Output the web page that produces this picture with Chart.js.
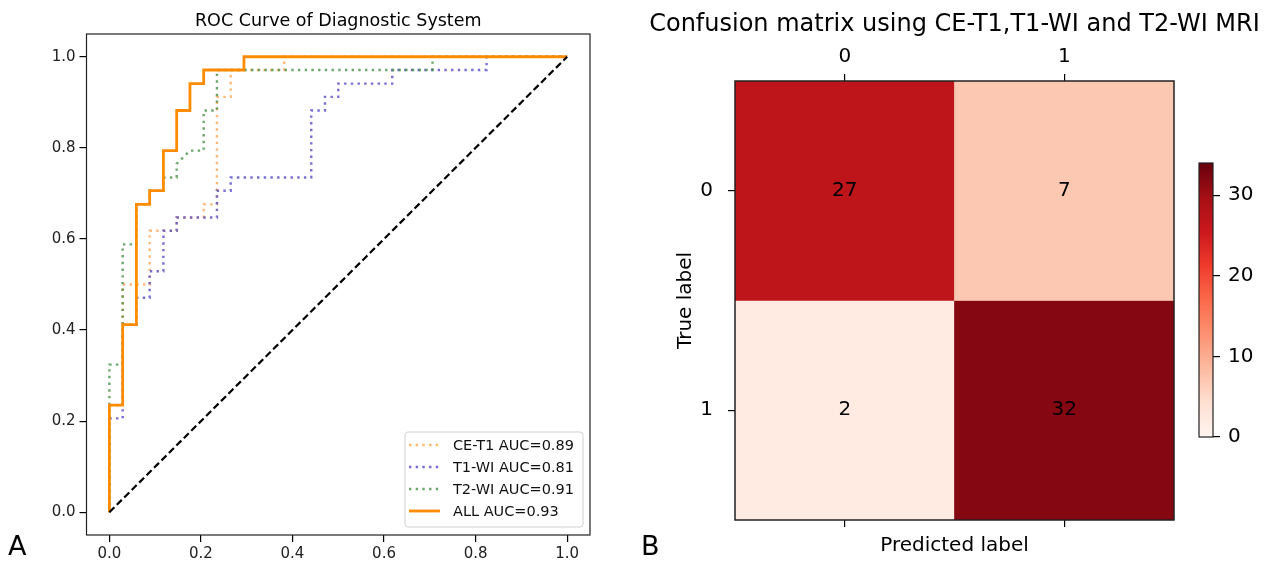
<!DOCTYPE html>
<html>
<head>
<meta charset="utf-8">
<script src="https://cdn.jsdelivr.net/npm/chart.js@4.4.0/dist/chart.umd.min.js"></script>
<style>
  html, body { margin: 0; padding: 0; background: #fff; }
  #wrap { position: relative; width: 1277px; height: 565px; overflow: hidden; font-family: "DejaVu Sans", sans-serif; }
  canvas { position: absolute; }
  #roc { left: 0; top: 0; }
  #cm { left: 640px; top: 0; }
  #cbar { left: 1185px; top: 140px; }
  .letter { position: absolute; font-size: 27px; line-height: 27px; color: #000; }
</style>
</head>
<body>
<div id="wrap">
  <canvas id="roc" width="640" height="565"></canvas>
  <canvas id="cm" width="637" height="565"></canvas>
  <canvas id="cbar" width="92" height="320"></canvas>
  <div class="letter" style="left:8px; top:532px;">A</div>
  <div class="letter" style="left:641px; top:532px;">B</div>
</div>
<script>
// ROC curves (false positive rate / true positive rate)
const CE_FPR  = [0, 0, 0.029, 0.029, 0.088, 0.088, 0.118, 0.118, 0.147, 0.147, 0.206, 0.206, 0.235, 0.235, 0.265, 0.265, 0.382, 0.382, 1];
const CE_TPR  = [0, 0.235, 0.235, 0.5, 0.5, 0.618, 0.618, 0.618, 0.618, 0.647, 0.647, 0.676, 0.676, 0.912, 0.912, 0.971, 0.971, 1, 1];
const T1_FPR  = [0, 0, 0.029, 0.029, 0.059, 0.059, 0.088, 0.088, 0.118, 0.118, 0.147, 0.147, 0.235, 0.235, 0.265, 0.265, 0.441, 0.441, 0.471, 0.471, 0.5, 0.5, 0.618, 0.618, 0.824, 0.824, 1];
const T1_TPR  = [0, 0.206, 0.206, 0.412, 0.412, 0.471, 0.471, 0.529, 0.529, 0.618, 0.618, 0.647, 0.647, 0.706, 0.706, 0.735, 0.735, 0.882, 0.882, 0.912, 0.912, 0.941, 0.941, 0.971, 0.971, 1, 1];
const T2_FPR  = [0, 0, 0.029, 0.029, 0.059, 0.059, 0.088, 0.088, 0.118, 0.118, 0.147, 0.147, 0.176, 0.206, 0.206, 0.235, 0.235, 0.706, 0.706, 1];
const T2_TPR  = [0, 0.324, 0.324, 0.588, 0.588, 0.676, 0.676, 0.706, 0.706, 0.735, 0.735, 0.765, 0.794, 0.794, 0.882, 0.882, 0.971, 0.971, 1, 1];
const ALL_FPR = [0, 0, 0.029, 0.029, 0.059, 0.059, 0.088, 0.088, 0.118, 0.118, 0.147, 0.147, 0.176, 0.176, 0.206, 0.206, 0.294, 0.294, 1];
const ALL_TPR = [0, 0.235, 0.235, 0.412, 0.412, 0.676, 0.676, 0.706, 0.706, 0.794, 0.794, 0.882, 0.882, 0.941, 0.941, 0.971, 0.971, 1, 1];
const CHANCE  = [0, 1];
const ROC_LABELS = ['CE-T1 AUC=0.89', 'T1-WI AUC=0.81', 'T2-WI AUC=0.91', 'ALL AUC=0.93'];
const ROC_TICKS = [0, 0.2, 0.4, 0.6, 0.8, 1.0];

// confusion matrix
const CM_CLASSES = ['0', '1'];
const CM_ROW0 = [27, 7];
const CM_ROW1 = [2, 32];
const CBAR_MIN = 0;
const CBAR_MAX = 34;
const CBAR_TICKS = [0, 10, 20, 30];

const FONT = '"DejaVu Sans", sans-serif';
Chart.defaults.font.family = FONT;
Chart.defaults.color = '#000';

// matplotlib "Reds"
const REDS = ['#fff5f0', '#fee0d2', '#fcbba1', '#fc9272', '#fb6a4a', '#ef3b2c', '#cb181d', '#a50f15', '#67000d'];
function hexRgb(h) { return [1, 3, 5].map(i => parseInt(h.slice(i, i + 2), 16)); }
function reds(v) {
  let t = (v - CBAR_MIN) / (CBAR_MAX - CBAR_MIN);
  t = Math.max(0, Math.min(1, t)) * (REDS.length - 1);
  const i = Math.min(Math.floor(t), REDS.length - 2);
  const f = t - i;
  const a = hexRgb(REDS[i]), b = hexRgb(REDS[i + 1]);
  const c = a.map((x, k) => Math.round(x + (b[k] - x) * f));
  return `rgb(${c[0]},${c[1]},${c[2]})`;
}

function pts(xs, ys) { return xs.map((x, i) => ({ x, y: ys[i] })); }

const framePlugin = {
  id: 'frame',
  afterDraw(chart, args, opts) {
    const a = chart.chartArea, c = chart.ctx;
    c.save();
    c.strokeStyle = opts.color || '#000';
    c.lineWidth = opts.width || 1.2;
    c.strokeRect(a.left, a.top, a.right - a.left, a.bottom - a.top);
    c.restore();
  }
};

const headingPlugin = {
  id: 'heading',
  afterDraw(chart, args, opts) {
    if (!opts.text) return;
    const a = chart.chartArea, c = chart.ctx;
    c.save();
    c.font = `${opts.size}px ${FONT}`;
    c.fillStyle = '#000';
    c.textAlign = 'center';
    c.textBaseline = 'alphabetic';
    c.fillText(opts.text, (a.left + a.right) / 2, opts.y);
    c.restore();
  }
};

// legend box in the lower right corner of the ROC axes
const rocLegend = {
  id: 'rocLegend',
  afterDraw(chart) {
    const c = chart.ctx, a = chart.chartArea;
    const items = chart.data.datasets.filter(d => d.label);
    items.sort((p, q) => p.legendIndex - q.legendIndex);
    c.save();
    c.font = `14.5px ${FONT}`;
    const textW = Math.max(...items.map(d => c.measureText(d.label).width));
    const w = 48 + textW + 9, rowH = 22, h = items.length * rowH + 7;
    const x = a.right - 7 - w, y = a.bottom - 8 - h;
    c.fillStyle = 'rgba(255,255,255,0.85)';
    c.strokeStyle = '#d0d0d0';
    c.lineWidth = 1;
    c.beginPath();
    c.roundRect(x, y, w, h, 3);
    c.fill(); c.stroke();
    items.forEach((d, i) => {
      const cy = y + 13 + i * rowH;
      c.strokeStyle = d.borderColor;
      c.lineWidth = d.borderWidth;
      c.setLineDash(d.borderDash || []);
      c.beginPath();
      c.moveTo(x + 4, cy); c.lineTo(x + 35, cy);
      c.stroke();
      c.setLineDash([]);
      c.fillStyle = '#111';
      c.textBaseline = 'middle';
      c.fillText(d.label, x + 48, cy + 1);
    });
    c.restore();
  }
};

const DOT = [2.4, 4.3];

new Chart(document.getElementById('roc'), {
  type: 'scatter',
  data: {
    datasets: [
      { data: pts(CHANCE, CHANCE), borderColor: '#000', borderWidth: 2.2, borderDash: [7, 3.5], order: 0 },
      { label: ROC_LABELS[3], legendIndex: 3, data: pts(ALL_FPR, ALL_TPR), borderColor: '#ff8c00', borderWidth: 2.8, order: 1 },
      { label: ROC_LABELS[2], legendIndex: 2, data: pts(T2_FPR, T2_TPR), borderColor: 'rgba(70,145,70,0.8)', borderWidth: 2.4, borderDash: DOT, order: 2 },
      { label: ROC_LABELS[1], legendIndex: 1, data: pts(T1_FPR, T1_TPR), borderColor: 'rgba(95,85,205,0.85)', borderWidth: 2.4, borderDash: DOT, order: 3 },
      { label: ROC_LABELS[0], legendIndex: 0, data: pts(CE_FPR, CE_TPR), borderColor: 'rgba(255,165,80,0.8)', borderWidth: 2.4, borderDash: DOT, order: 4 },
    ].map(d => Object.assign({ showLine: true, pointRadius: 0, fill: false, tension: 0, borderCapStyle: 'butt', borderJoinStyle: 'miter' }, d)),
  },
  options: {
    responsive: false,
    animation: false,
    layout: { padding: { left: 0, top: 34, right: 50, bottom: 0 } },
    scales: {
      x: {
        type: 'linear', min: -0.05, max: 1.05,
        afterBuildTicks: s => { s.ticks = ROC_TICKS.map(v => ({ value: v })); },
        afterFit: s => { s.height = 30; },
        ticks: { callback: v => v.toFixed(1), font: { size: 15 }, color: '#222', padding: 3, maxRotation: 0, autoSkip: false },
        grid: { drawOnChartArea: false, tickLength: 7, color: '#000', lineWidth: 1.2 },
        border: { display: false },
      },
      y: {
        type: 'linear', min: -0.05, max: 1.05,
        afterBuildTicks: s => { s.ticks = ROC_TICKS.map(v => ({ value: v })); },
        afterFit: s => { s.width = 86.5; },
        ticks: { callback: v => v.toFixed(1), font: { size: 15 }, color: '#222', padding: 4, autoSkip: false },
        grid: { drawOnChartArea: false, tickLength: 7, color: '#000', lineWidth: 1.2 },
        border: { display: false },
      },
    },
    plugins: {
      legend: { display: false },
      tooltip: { enabled: false },
      frame: { color: '#222', width: 1.2 },
      heading: { text: 'ROC Curve of Diagnostic System', size: 17.5, y: 26 },
    },
  },
  plugins: [framePlugin, headingPlugin, rocLegend],
});

// confusion matrix heat map
const cellText = {
  id: 'cellText',
  afterDatasetsDraw(chart) {
    const c = chart.ctx, xs = chart.scales.x, ys = chart.scales.y;
    c.save();
    c.font = `20px ${FONT}`;
    c.fillStyle = '#000';
    c.textAlign = 'center';
    c.textBaseline = 'middle';
    [CM_ROW0, CM_ROW1].forEach((row, r) => {
      row.forEach((v, k) => c.fillText(String(v), xs.getPixelForValue(k), ys.getPixelForValue(r + 0.5)));
    });
    c.restore();
  }
};

const tickGrid = { drawOnChartArea: false, tickLength: 7, color: '#000', lineWidth: 1.2, offset: false };

new Chart(document.getElementById('cm'), {
  type: 'bar',
  data: {
    labels: CM_CLASSES,
    datasets: [CM_ROW0, CM_ROW1].map((row, r) => ({
      data: row.map(() => [r, r + 1]),
      backgroundColor: row.map(reds),
      borderWidth: 0,
      grouped: false,
      barPercentage: 1,
      categoryPercentage: 1,
    })),
  },
  options: {
    responsive: false,
    animation: false,
    layout: { padding: { left: 30, top: 0, right: 103, bottom: 0 } },
    scales: {
      x: {
        type: 'category', position: 'top', offset: true,
        afterFit: s => { s.height = 81; },
        ticks: { font: { size: 20 }, padding: 5 },
        grid: tickGrid,
        border: { display: false },
      },
      x2: {
        type: 'category', position: 'bottom', offset: true,
        afterFit: s => { s.height = 45; },
        ticks: { callback: () => '', font: { size: 20 } },
        grid: tickGrid,
        border: { display: false },
        title: { display: true, text: 'Predicted label', font: { size: 20 }, padding: { top: 0, bottom: 7 } },
      },
      y: {
        type: 'linear', min: 0, max: CM_CLASSES.length, reverse: true,
        afterBuildTicks: s => { s.ticks = CM_CLASSES.map((_, i) => ({ value: i + 0.5 })); },
        afterFit: s => { s.width = 65; },
        ticks: { callback: (v, i) => CM_CLASSES[i], font: { size: 20 }, padding: 15, autoSkip: false },
        grid: tickGrid,
        border: { display: false },
        title: { display: true, text: 'True label', font: { size: 20 }, padding: { top: 4, bottom: 0 } },
      },
    },
    plugins: {
      legend: { display: false },
      tooltip: { enabled: false },
      frame: { color: '#222', width: 1.5 },
      heading: { text: 'Confusion matrix using CE-T1,T1-WI and T2-WI MRI', size: 24, y: 31 },
    },
  },
  plugins: [framePlugin, headingPlugin, cellText],
});

// colour bar
new Chart(document.getElementById('cbar'), {
  type: 'bar',
  data: {
    labels: [''],
    datasets: [{
      data: [[CBAR_MIN, CBAR_MAX]],
      backgroundColor: ctx => {
        const area = ctx.chart.chartArea;
        if (!area) return REDS[0];
        const g = ctx.chart.ctx.createLinearGradient(0, area.bottom, 0, area.top);
        REDS.forEach((col, i) => g.addColorStop(i / (REDS.length - 1), col));
        return g;
      },
      borderWidth: 0,
      barPercentage: 1,
      categoryPercentage: 1,
    }],
  },
  options: {
    responsive: false,
    animation: false,
    layout: { padding: { left: 14, top: 23, right: 0, bottom: 23 } },
    scales: {
      x: { display: false },
      y: {
        type: 'linear', position: 'right', min: CBAR_MIN, max: CBAR_MAX,
        afterBuildTicks: s => { s.ticks = CBAR_TICKS.map(v => ({ value: v })); },
        afterFit: s => { s.width = 64; },
        ticks: { font: { size: 20 }, padding: 8, autoSkip: false },
        grid: { drawOnChartArea: false, tickLength: 7, color: '#000', lineWidth: 1.2 },
        border: { display: false },
      },
    },
    plugins: {
      legend: { display: false },
      tooltip: { enabled: false },
      frame: { color: '#222', width: 1.2 },
    },
  },
  plugins: [framePlugin],
});
</script>
</body>
</html>
